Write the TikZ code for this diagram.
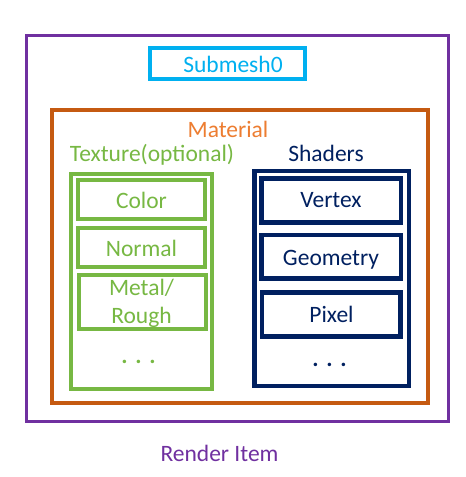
\documentclass[tikz,border=0pt]{standalone}
\usepackage{fontspec}
\setmainfont{Carlito}
\usetikzlibrary{fit}
\definecolor{rpurple}{HTML}{7030A0}
\definecolor{rcyan}{HTML}{00B0F0}
\definecolor{rorange}{HTML}{C55A11}
\definecolor{rorangetxt}{HTML}{ED7D31}
\definecolor{rgreen}{HTML}{77B843}
\definecolor{rnavy}{HTML}{002060}
\begin{document}
\begin{tikzpicture}[x=1pt,y=-1pt,
  frame/.style={draw, inner sep=0pt},
  lbl/.style={anchor=base, inner sep=0pt, font=\fontsize{23.5}{28}\selectfont},
]
\useasboundingbox[fill=white] (0,0) rectangle (466,477);
% outer render item
\node[frame, fit={(26,35.5) (448.3,421)}, rpurple, line width=3pt] (render) {};
\node[lbl, text=rpurple] (renderlbl) at (219.5,461) {Render Item};
% submesh
\node[frame, fit={(150,48) (304.7,78.7)}, rcyan, line width=4pt] (submesh) {};
\node[lbl, text=rcyan] (submeshlbl) at (233,72) {Submesh0};
% material
\node[frame, fit={(52,110) (428,402.7)}, rorange, line width=4pt] (material) {};
\node[lbl, text=rorangetxt] (materiallbl) at (228,137) {Material};
% textures
\node[lbl, text=rgreen] (texturelbl) at (152,161) {Texture(optional)};
\node[frame, fit={(70.7,173.8) (212,389)}, rgreen, line width=4pt] (texture) {};
\node[frame, fit={(78,180) (205.3,219.3)}, rgreen, line width=4pt] (color) {};
\node[lbl, text=rgreen] (colorlbl) at (141.5,208) {Color};
\node[frame, fit={(78,228) (205,267)}, rgreen, line width=4pt] (normal) {};
\node[lbl, text=rgreen] (normallbl) at (141.5,256) {Normal};
\node[frame, fit={(78.7,274.7) (206,329.3)}, rgreen, line width=4pt] (metal) {};
\node[lbl, text=rgreen] (metallbl) at (141.5,295) {Metal/};
\node[lbl, text=rgreen] (roughlbl) at (141.5,323) {Rough};
\node[lbl, text=rgreen] (tdots) at (138.5,363) {\textbf{.\,\,.\,\,.}};
% shaders
\node[lbl, text=rnavy] (shaderslbl) at (326,161) {Shaders};
\node[frame, fit={(254.3,171) (409,386)}, rnavy, line width=4.7pt] (shaders) {};
\node[frame, fit={(261.7,178.3) (401,222.5)}, rnavy, line width=4.7pt] (vertex) {};
\node[lbl, text=rnavy] (vertexlbl) at (331,207) {Vertex};
\node[frame, fit={(261.7,235) (401,278.3)}, rnavy, line width=4.7pt] (geometry) {};
\node[lbl, text=rnavy] (geometrylbl) at (331,265) {Geometry};
\node[frame, fit={(262,292.3) (400.5,336.3)}, rnavy, line width=4.7pt] (pixel) {};
\node[lbl, text=rnavy] (pixellbl) at (331.5,322) {Pixel};
\node[lbl, text=rnavy] (sdots) at (329.5,366) {\textbf{.\,\,.\,\,.}};
\end{tikzpicture}
\end{document}
